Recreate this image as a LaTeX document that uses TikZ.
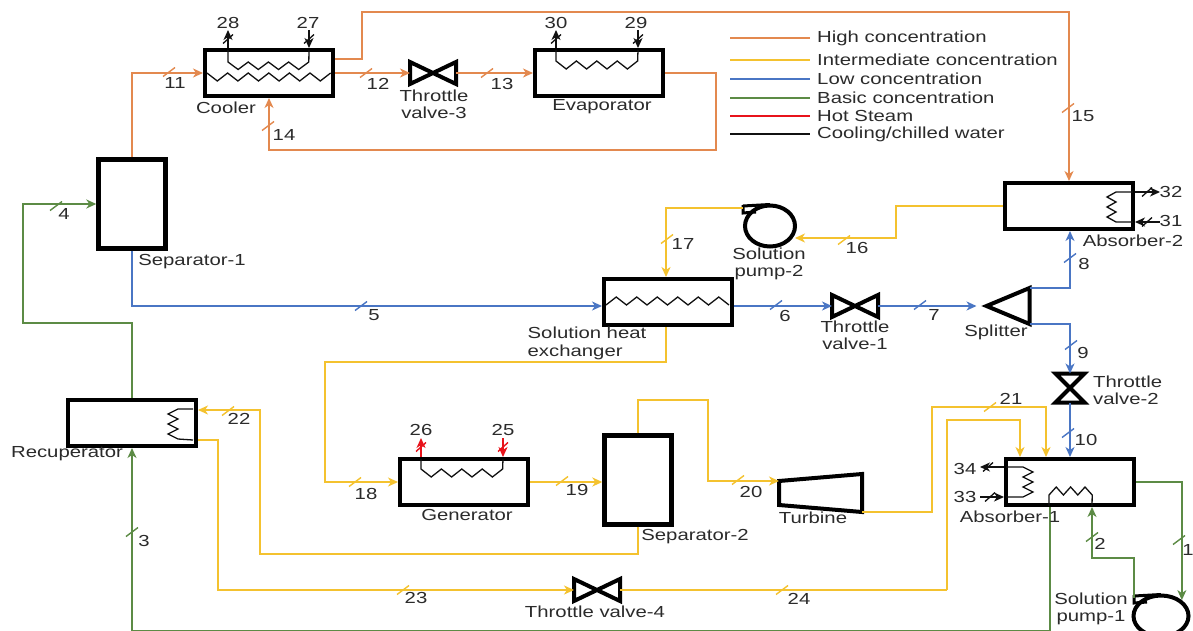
\documentclass[tikz,border=0pt]{standalone}
\usepackage{fontspec}
\setmainfont[FakeStretch=1.27]{Liberation Sans}
\usetikzlibrary{arrows.meta,shapes.geometric}
\definecolor{Hc}{HTML}{E3894F}
\definecolor{Mc}{HTML}{F4C22F}
\definecolor{Lc}{HTML}{4A76C4}
\definecolor{Bc}{HTML}{5C8B45}
\definecolor{Sc}{HTML}{E8131B}
\definecolor{Wc}{HTML}{111111}
\definecolor{Tc}{HTML}{2B2B2B}
\tikzset{
  lbl/.style={font=\fontsize{16}{17.5}\selectfont, text=Tc, inner sep=0pt, align=center},
  unit/.style={rectangle, draw=black, line width=4pt, inner sep=0pt, minimum width=128pt, minimum height=46pt},
  sepbox/.style={rectangle, draw=black, line width=4.4pt, inner sep=0pt, minimum width=67pt, minimum height=89pt},
  hollow/.style={rectangle, inner sep=0pt, outer sep=0pt},
  pumpbody/.style={ellipse, draw=black, line width=4pt, inner sep=0pt, minimum width=50pt, minimum height=41pt},
  solid/.style={draw=black, line width=4pt, line join=miter},
  flow/.style={-{Stealth[length=10pt,width=9pt,inset=3pt]}},
  Hl/.style={draw=Hc, line width=1.6pt},
  Ml/.style={draw=Mc, line width=1.6pt},
  Ll/.style={draw=Lc, line width=1.6pt},
  Bl/.style={draw=Bc, line width=1.6pt},
  Sl/.style={draw=Sc, line width=1.6pt},
  Wl/.style={draw=Wc, line width=1.3pt},
}
\newcommand{\zigx}[3]{\foreach \k in {1,...,#1}{ -- ++(#2,#3) -- ++(#2,-#3)}}
\newcommand{\zigy}[3]{\foreach \k in {1,...,#1}{ -- ++(#2,#3) -- ++(-#2,#3)}}
\newcommand{\valveH}[2]{%
  \node[hollow, minimum width=46pt, minimum height=22pt] (#1) at (#2) {};
  \draw[solid] (#1.north west) -- (#1.south east) -- (#1.north east) -- (#1.south west) -- cycle;}
\newcommand{\valveV}[2]{%
  \node[hollow, minimum width=29pt, minimum height=29pt] (#1) at (#2) {};
  \draw[solid] (#1.north west) -- (#1.north east) -- (#1.south west) -- (#1.south east) -- cycle;}
\newcommand{\pump}[3]{%
  \node[pumpbody, #3] (#1) at (#2) {};
  \coordinate (#1tab) at ([xshift=-27pt,yshift=18pt]#1.center);
  \draw[solid, line width=3pt] ([xshift=-27pt,yshift=20pt]#1.center) -- ([yshift=-1pt]#1.north);
  \draw[solid, line width=3pt] ([xshift=-27pt,yshift=21pt]#1.center) -- ([xshift=-27pt,yshift=13pt]#1.center) -- ([xshift=-14pt,yshift=14pt]#1.center);}

\begin{document}
\begin{tikzpicture}[x=1pt,y=-1pt]
  \clip (0,0) rectangle (1193,631);
  \fill[white] (0,0) rectangle (1193,631);
  % equipment
  \node[unit] (cooler) at (269,73) {};
  \node[unit] (evap) at (599,73) {};
  \node[sepbox] (sepa) at (132,204) {};
  \node[unit] (abstwo) at (1069,206) {};
  \node[unit] (she) at (668,302) {};
  \node[unit] (absone) at (1070,482) {};
  \node[unit] (recup) at (132,423) {};
  \node[unit] (gen) at (464,482) {};
  \node[sepbox] (seb) at (638,480) {};
  \valveH{vthree}{433,73}
  \valveH{vone}{855,306}
  \valveH{vfour}{597,590}
  \valveV{vtwo}{1070,388}
  \pump{ptwo}{770,226}{}
  \pump{pone}{1161,616}{minimum width=55pt, minimum height=41pt}
  \node[hollow, minimum width=43pt, minimum height=36pt] (split) at (1008,306) {};
  \draw[solid] (split.west) -- (split.north east) -- (split.south east) -- cycle;
  \node[hollow, minimum width=83pt, minimum height=38pt] (tur) at (820.5,493) {};
  \draw[solid] ([yshift=-7pt]tur.north west) -- (tur.north east) -- (tur.south east) -- ([yshift=7pt]tur.south west) -- cycle;
  % bends
  \coordinate (hb15) at (1069,12);
  \coordinate (hb14) at (716,150);
  \coordinate (mb16) at (896,238);
  \coordinate (mb16e) at (795,238);
  \coordinate (mb18) at (325,362);
  \coordinate (mb20) at (708,400);
  \coordinate (mb21) at (932,407);
  \coordinate (mb21e) at (1046,407);
  \coordinate (mb22) at (260,554);
  \coordinate (mb23) at (218,590);
  \coordinate (mb24) at (947,590);
  \coordinate (mb24e) at (1020,420);
  \coordinate (bb2) at (1092,558);
  \coordinate (bb3) at (1050,630.5);
  \coordinate (bb4) at (23,323);
  % high concentration
  \draw[Hl, flow] (sepa.north) |- (cooler.west);
  \draw[Hl, flow] ([yshift=14pt]cooler.east) -- ++(27,0) |- (hb15) -- (abstwo.north);
  \draw[Hl, flow] (cooler.east |- vthree.west) -- (vthree.west);
  \draw[Hl, flow] (vthree.east) -- (vthree.east -| evap.west);
  \draw[Hl, flow] (evap.east) -| (hb14) -| (cooler.south);
  % intermediate concentration
  \draw[Ml, flow] (abstwo.west) -| (mb16) -- (mb16e);
  \draw[Ml, flow] (ptwotab) -| ([xshift=-2pt]she.north);
  \draw[Ml, flow] ([xshift=-2pt]she.south) |- (mb18) |- (gen.west);
  \draw[Ml, flow] (gen.east) -- (gen.east -| seb.west);
  \draw[Ml, flow] (seb.north) |- (mb20) |- ([yshift=-7pt]tur.north west);
  \draw[Ml, flow] (tur.south east) -| (mb21) -- (mb21e) -- (mb21e |- absone.north);
  \draw[Ml, flow] (seb.south) |- (mb22) |- ([yshift=13pt]recup.east);
  \draw[Ml, flow] ([yshift=-17pt]recup.east) -| (mb23) -- (vfour.west);
  \draw[Ml] (vfour.east) -- (mb24);
  \draw[Ml, flow] (mb24) |- (mb24e) -- (mb24e |- absone.north);
  % low concentration
  \draw[Ll, flow] (sepa.south) |- ([yshift=-4pt]she.west);
  \draw[Ll, flow] ([yshift=-4pt]she.east) -- (vone.west);
  \draw[Ll, flow] (vone.east) -- ([xshift=-10pt]split.west);
  \draw[Ll, flow] (split.north east) -| ([xshift=1pt]abstwo.south);
  \draw[Ll, flow] (split.south east) -| (vtwo.north);
  \draw[Ll, flow] (vtwo.south) -- (vtwo.south |- absone.north);
  % basic concentration
  \draw[Bl, flow] (absone.east) -| (pone.north east);
  \draw[Bl, flow] (ponetab) |- (bb2) -- (bb2 |- absone.south);
  \draw[Bl, flow] (absone.south -| bb3) -- (bb3) -| (recup.south);
  \draw[Bl, flow] (recup.north) |- (bb4) |- (sepa.west);
  % coils
  \draw[Wl] (228,50) -- (228,62) \zigx{4}{10.1}{7.5} -- (309,50);
  \draw[Wl] (207,73) \zigx{6}{10.3}{8};
  \draw[Wl] (556,50) -- (556,61) \zigx{4}{10.2}{8} -- (638,50);
  \draw[Wl] (421,459) -- (421,469) \zigx{4}{10.2}{8} -- (503,459);
  \draw[Wl] (606,305) \zigx{6}{10.25}{-8};
  \draw[Wl] (1133,192) -- (1116,192) \zigy{3}{-9}{5} -- (1133,222);
  \draw[Wl] (193,409) -- (178,409) \zigy{3}{-10}{5} -- (193,440);
  \draw[Wl] (1006,467) -- (1023,467) \zigy{3}{10}{5} -- (1006,497);
  \draw[Wl] (1049,506) -- (1049,495) \zigx{3}{7.2}{-8} -- (1092,506);
  % water and steam ports
  \coordinate (wp28) at (228,30);
  \coordinate (wp27) at (309,30);
  \coordinate (wp30) at (556,30);
  \coordinate (wp29) at (638,30);
  \coordinate (wp26) at (421,438);
  \coordinate (wp25) at (503,438);
  \coordinate (wp32) at (1160,192);
  \coordinate (wp31) at (1160,222);
  \coordinate (wp34) at (980,467);
  \coordinate (wp33) at (980,497);
  \draw[Wl, flow] (cooler.north -| wp28) -- (wp28);
  \draw[Wl, flow] (wp27) -- (cooler.north -| wp27);
  \draw[Wl, flow] (evap.north -| wp30) -- (wp30);
  \draw[Wl, flow] (wp29) -- (evap.north -| wp29);
  \draw[Sl, flow] (gen.north -| wp26) -- (wp26);
  \draw[Sl, flow] (wp25) -- (gen.north -| wp25);
  \draw[Wl, flow] (abstwo.east |- wp32) -- (wp32);
  \draw[Wl, flow] (wp31) -- (abstwo.east |- wp31);
  \draw[Wl, flow] (absone.west |- wp34) -- (wp34);
  \draw[Wl, flow] (wp33) -- (absone.west |- wp33);
  % stream ticks
  \foreach \x/\y in {169/72,366/73,487/73,268/126,1068/108}
    \draw[Hl, line width=1.4pt] (\x-6,\y+4.5) -- (\x+6,\y-4.5);
  \foreach \x/\y in {844/240,667/239,990/407,228/411,355/482,562/481,738/480,403/590,782/590}
    \draw[Ml, line width=1.4pt] (\x-6,\y+4.5) -- (\x+6,\y-4.5);
  \foreach \x/\y in {361/306,776/305,920/305,1070/258,1071/345,1068/433}
    \draw[Ll, line width=1.4pt] (\x-6,\y+4.5) -- (\x+6,\y-4.5);
  \foreach \x/\y in {1179/540,1092/537,132/532,56/206}
    \draw[Bl, line width=1.4pt] (\x-6,\y+4.5) -- (\x+6,\y-4.5);
  \foreach \x/\y in {421/447,503/447}
    \draw[Sl, line width=1.4pt] (\x-5,\y+4.5) -- (\x+5,\y-4.5);
  \foreach \x/\y in {228/39,309/39,556/39,638/39,1147/192,1147/222,988/467,990/497}
    \draw[Wl] (\x-5,\y+4.5) -- (\x+5,\y-4.5);
  % stream numbers
  \foreach \n/\x/\y in {1/1188/550,2/1100/544,3/144/541,4/64/214,5/374/315,6/785/316,7/934/315,
      8/1084/264,9/1083/353,10/1086/440,11/175/83,12/378/84,13/502/84,14/284/135,15/1083/116,
      16/857/248,17/683/244,18/366/494,19/577/490,20/751/492,21/1011/399,22/239/419,23/416/598,
      24/799/599,25/503/430,26/421/430,27/308/23,28/228/23,29/636/23,30/556/23,31/1171/221,
      32/1171/192,33/965/497,34/965/469}
    \node[lbl] (n\n) at (\x,\y) {\n};
  % unit names
  \node[lbl] (tcooler) at (226,108) {Cooler};
  \node[lbl] (tvthree) at (434,104.5) {Throttle\\valve-3};
  \node[lbl] (tevap) at (602,107) {Evaporator};
  \node[lbl] (tsepa) at (192,262) {Separator-1};
  \node[lbl] (tptwo) at (769,264) {Solution\\pump-2};
  \node[lbl, align=left] (tshe) at (587,343.5) {Solution heat\\exchanger};
  \node[lbl] (tvone) at (855,335.5) {Throttle\\valve-1};
  \node[lbl] (tsplit) at (996,332) {Splitter};
  \node[lbl] (tabstwo) at (1133,241) {Absorber-2};
  \node[lbl, anchor=west, align=left] (tvtwo) at (1093,390.5) {Throttle\\valve-2};
  \node[lbl] (tabsone) at (1010,517) {Absorber-1};
  \node[lbl] (tpone) at (1091,609) {Solution\\pump-1};
  \node[lbl] (trecup) at (67,454) {Recuperator};
  \node[lbl] (tgen) at (467,515) {Generator};
  \node[lbl] (ttur) at (813,518) {Turbine};
  \node[lbl] (tseb) at (695,537) {Separator-2};
  \node[lbl] (tvfour) at (595,612) {Throttle valve-4};
  % legend
  \foreach \c/\y/\t in {Hl/38/{High concentration},Ml/60/{Intermediate concentration},Ll/79/{Low concentration},
      Bl/98/{Basic concentration},Sl/116/{Hot Steam},Wl/134/{Cooling/chilled water}}{
    \node[lbl, anchor=west] (leg\c) at (817,\y) {\t};
    \draw[\c] ([xshift=-87pt]leg\c.west) -- ([xshift=-7pt]leg\c.west);}
\end{tikzpicture}
\end{document}
